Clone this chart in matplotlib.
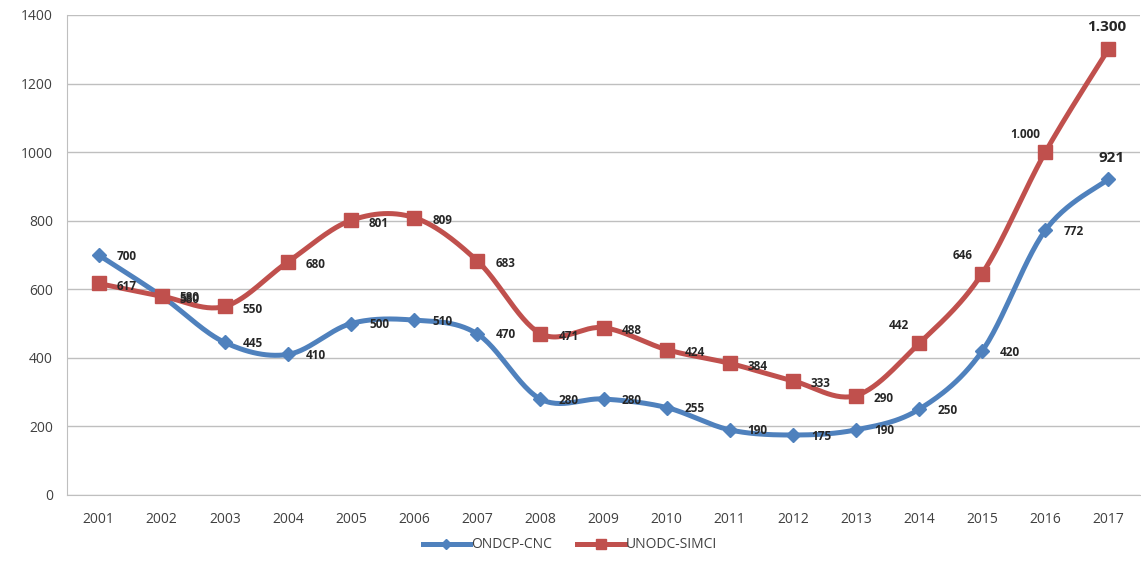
import numpy as np
import matplotlib
matplotlib.use('Agg')
import matplotlib.pyplot as plt
from matplotlib.lines import Line2D

years = [str(y) for y in range(2001, 2018)]
ondcp = [700, 580, 445, 410, 500, 510, 470, 280, 280, 255, 190, 175, 190, 250, 420, 772, 921]
unodc = [617, 580, 550, 680, 801, 809, 683, 471, 488, 424, 384, 333, 290, 442, 646, 1000, 1300]
ondcp_txt = ['700', '580', '445', '410', '500', '510', '470', '280', '280', '255', '190', '175', '190',
             '250', '420', '772', '921']
unodc_txt = ['617', '580', '550', '680', '801', '809', '683', '471', '488', '424', '384', '333', '290',
             '442', '646', '1.000', '1.300']

BLUE = '#4F81BD'
RED = '#C0504D'


def smooth(y, n=30):
    # Excel-style smoothed line: cubic bezier with catmull-rom control points
    x = np.arange(len(y), dtype=float)
    y = np.asarray(y, dtype=float)
    px = np.concatenate([[x[0]], x, [x[-1]]])
    py = np.concatenate([[y[0]], y, [y[-1]]])
    xs, ys = [], []
    t = np.linspace(0, 1, n)
    for i in range(1, len(px) - 2):
        p0 = np.array([px[i], py[i]])
        p3 = np.array([px[i + 1], py[i + 1]])
        c1 = p0 + (np.array([px[i + 1], py[i + 1]]) - np.array([px[i - 1], py[i - 1]])) / 6
        c2 = p3 - (np.array([px[i + 2], py[i + 2]]) - np.array([px[i], py[i]])) / 6
        b = ((1 - t) ** 3)[:, None] * p0 + (3 * (1 - t) ** 2 * t)[:, None] * c1 \
            + (3 * (1 - t) * t ** 2)[:, None] * c2 + (t ** 3)[:, None] * p3
        xs.extend(b[:, 0])
        ys.extend(b[:, 1])
    return np.array(xs), np.array(ys)


plt.rcParams['font.family'] = ['Open Sans', 'DejaVu Sans']

fig = plt.figure(figsize=(11.41, 5.62), dpi=100)
ax = fig.add_axes([67 / 1141, 1 - 495 / 562, (1140 - 67) / 1141, (495 - 15) / 562])

x = np.arange(len(years))
for vals, col, mk, ms in [(ondcp, BLUE, 'D', 7), (unodc, RED, 's', 10)]:
    sx, sy = smooth(vals)
    ax.plot(sx, sy, color=col, lw=3.6, solid_capstyle='round', zorder=3)
    ax.plot(x, vals, ls='none', marker=mk, ms=ms, color=col, zorder=4)

lbl = dict(fontsize=8.5, fontweight='bold', color='#262626', textcoords='offset pixels', zorder=5)
for i, (v, t) in enumerate(zip(ondcp, ondcp_txt)):
    if i == len(ondcp) - 1:
        ax.annotate(t, (i, v), xytext=(3, 21), ha='center', va='center', fontsize=11,
                    fontweight='bold', color='#262626', textcoords='offset pixels', zorder=5)
    else:
        ax.annotate(t, (i, v), xytext=(18, -1), ha='left', va='center', **lbl)
for i, (v, t) in enumerate(zip(unodc, unodc_txt)):
    if i == len(unodc) - 1:
        ax.annotate(t, (i, v), xytext=(-2, 22), ha='center', va='center', fontsize=11,
                    fontweight='bold', color='#262626', textcoords='offset pixels', zorder=5)
    elif i in (13, 14, 15):
        ax.annotate(t, (i, v), xytext=(-20, 18), ha='center', va='center', **lbl)
    else:
        ax.annotate(t, (i, v), xytext=(18, -3), ha='left', va='center', **lbl)

ax.set_xlim(-0.5, len(years) - 0.5)
ax.set_ylim(0, 1400)
ax.set_yticks(range(0, 1401, 200))
ax.set_xticks(x)
ax.set_xticklabels(years)
ax.grid(axis='y', color='#BFBFBF', lw=1)
ax.set_axisbelow(True)
ax.tick_params(length=0, labelsize=10, labelcolor='#404040', pad=12)
ax.tick_params(axis='y', pad=10)
for s in ['top', 'right']:
    ax.spines[s].set_visible(False)
for s in ['left', 'bottom']:
    ax.spines[s].set_color('#BFBFBF')

handles = [Line2D([], [], color=BLUE, lw=3.6, marker='D', ms=5),
           Line2D([], [], color=RED, lw=3.6, marker='s', ms=7)]
fig.legend(handles, ['ONDCP-CNC', 'UNODC-SIMCI'], loc='center', bbox_to_anchor=(570 / 1141, 1 - 545 / 562),
           ncol=2, frameon=False, fontsize=10, handlelength=3.4, handletextpad=0.1, columnspacing=1.8,
           labelcolor='#404040')

fig.savefig('out.png', dpi=100)
